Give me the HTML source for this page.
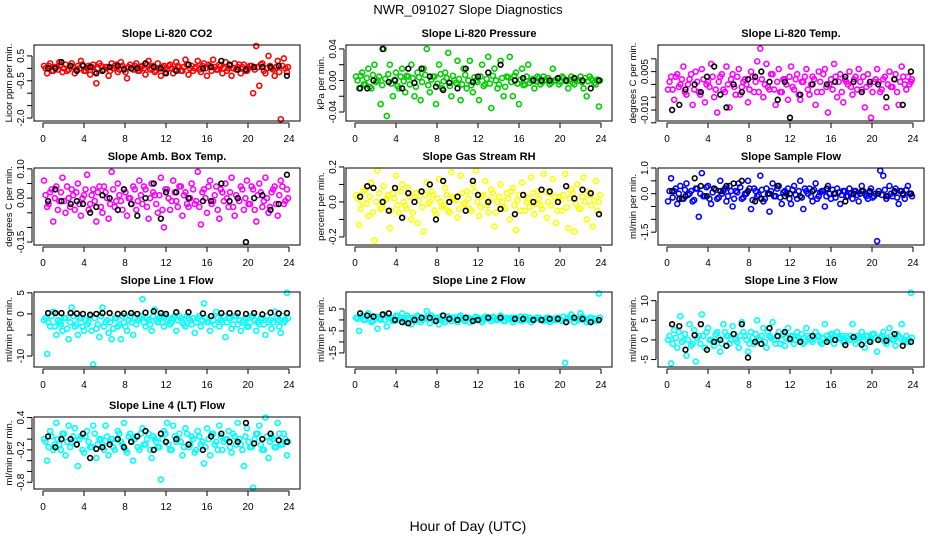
<!DOCTYPE html>
<html><head><meta charset="utf-8"><style>
html,body{margin:0;padding:0;background:#fff;width:936px;height:540px;overflow:hidden}
svg{display:block;font-family:"Liberation Sans",Arial,sans-serif}
</style></head><body>
<svg id="chart" width="936" height="540" viewBox="0 0 936 540" xmlns="http://www.w3.org/2000/svg">
<rect x="0" y="0" width="936" height="540" fill="#fff"/>
<text x="468" y="14" text-anchor="middle" font-size="13">NWR_091027  Slope Diagnostics</text>
<text x="468" y="531" text-anchor="middle" font-size="14">Hour of Day (UTC)</text>
</svg>
<script>
const colorHours=[0.1,0.4,0.7,1.0,1.3,1.6,1.9,2.2,2.5,2.8,3.1,3.4,3.7,4.0,4.3,4.6,4.9,5.2,5.5,5.8,6.1,6.4,6.7,7.0,7.3,7.6,7.9,8.2,8.5,8.8,9.1,9.4,9.7,10.0,10.3,10.6,10.9,11.2,11.5,11.8,12.1,12.4,12.7,13.0,13.3,13.6,13.9,14.2,14.5,14.8,15.1,15.4,15.7,16.0,16.3,16.6,16.9,17.2,17.5,17.8,18.1,18.4,18.7,19.0,19.3,19.6,19.9,20.2,20.5,20.8,21.1,21.4,21.7,22.0,22.3,22.6,22.9,23.2,23.5,23.8];
const coreHours=[0.25,0.55,0.85,1.15,1.45,1.75,2.05,2.35,2.65,2.95,3.25,3.55,3.85,4.15,4.45,4.75,5.05,5.35,5.65,5.95,6.25,6.55,6.85,7.15,7.45,7.75,8.05,8.35,8.65,8.95,9.25,9.55,9.85,10.15,10.45,10.75,11.05,11.35,11.65,11.95,12.25,12.55,12.85,13.15,13.45,13.75,14.05,14.35,14.65,14.95,15.25,15.55,15.85,16.15,16.45,16.75,17.05,17.35,17.65,17.95,18.25,18.55,18.85,19.15,19.45,19.75,20.05,20.35,20.65,20.95,21.25,21.55,21.85,22.15,22.45,22.75,23.05,23.35,23.65,23.9];
const blackHours=[0.5,1.2,1.8,2.7,3.3,3.9,4.6,5.2,5.8,6.5,7.3,7.9,8.6,9.2,10.0,10.8,11.5,12.0,13.0,14.2,15.6,16.4,17.4,18.2,19.0,19.8,20.6,21.4,22.2,23.0,23.8];
const xTicks=[0,4,8,12,16,20,24];

const titles=["Slope Li-820 CO2","Slope Li-820 Pressure","Slope Li-820 Temp.","Slope Amb. Box Temp.","Slope Gas Stream RH","Slope Sample Flow","Slope Line 1 Flow","Slope Line 2 Flow","Slope Line 3 Flow","Slope Line 4 (LT) Flow"];
const yTitles=["Licor ppm per min.","kPa per min.","degrees C per min.","degrees C per min.","percent per min.","ml/min per min.","ml/min per min.","ml/min per min.","ml/min per min.","ml/min per min."];
const colors=["#ff0000","#00cd00","#ff00ff","#ff00ff","#ffff00","#0000ff","#00ffff","#00ffff","#00ffff","#00ffff"];
const yRanges=[[-2.12,0.94],[-0.0514,0.045],[-0.0143,0.0154],[-0.16,0.103],[-0.246,0.194],[-2.0,1.0],[-12.6,5.2],[-21.4,12.7],[-6.9,12.2],[-0.925,0.41]];
const yTicks=[[0.5,0,-0.5,-1,-1.5,-2],[0.04,0.02,0,-0.02,-0.04],[0.01,0.005,0,-0.005,-0.01,-0.015],[0.1,0.05,0,-0.05,-0.1,-0.15],[0.2,0.1,0,-0.1,-0.2],[1,0.5,0,-0.5,-1,-1.5],[5,0,-5,-10],[5,0,-5,-10,-15],[10,5,0,-5],[0.4,0.2,0,-0.2,-0.4,-0.6,-0.8]];
const yLabels=[["0.5","-0.5","-2.0"],["0.04","0.00","-0.04"],["0.005","-0.010"],["0.10","0.00","-0.15"],["0.2","0.0","-0.2"],["1.0","0.0","-1.5"],["5","0","-10"],["5","-5","-15"],["10","5","0","-5"],["0.4","-0.2","-0.8"]];
const yLabelVals=[[0.5,-0.5,-2],[0.04,0,-0.04],[0.005,-0.01],[0.1,0,-0.15],[0.2,0,-0.2],[1,0,-1.5],[5,0,-10],[5,-5,-15],[10,5,0,-5],[0.4,-0.2,-0.8]];

const co2Vals=[0.1,-0.2,0.2,-0.1,0.05,0.25,-0.15,0.15,-0.05,0.2,-0.2,0.1,0.3,-0.1,0.0,-0.25,0.15,-0.6,0.2,-0.1,0.05,-0.3,0.2,0.1,-0.15,0.25,0.0,-0.4,0.15,-0.05,0.2,-0.1,0.1,-0.25,0.3,0.0,-0.15,0.2,-0.3,0.1,-0.05,0.15,-0.2,0.25,0.05,-0.1,0.35,-0.25,0.1,0.0,0.3,-0.15,0.2,-0.3,0.1,0.35,-0.05,0.15,-0.2,0.25,0.0,-0.3,0.2,0.05,-0.2,0.15,-0.1,0.1,-1.0,0.9,-0.7,0.2,-0.2,0.5,0.0,-0.3,0.3,-2.05,0.4,-0.15];
const co2Core=[0.0,0.1,-0.1,0.05,-0.05,0.15,0.0,-0.1,0.1,0.05,-0.05,0.0,0.15,-0.1,0.1,0.05,-0.15,0.0,0.1,-0.05,0.05,-0.1,0.0,0.15,-0.05,0.1,-0.15,0.05,0.0,0.1,-0.1,0.05,0.0,0.15,-0.05,0.1,-0.1,0.0,0.05,-0.15,0.1,0.0,-0.05,0.1,-0.1,0.05,0.15,0.0,-0.1,0.05,-0.05,0.1,0.0,0.15,-0.1,0.05,-0.05,0.1,0.0,-0.1,0.1,0.0,-0.05,0.15,0.05,-0.1,0.0,0.1,-0.05,0.05,0.15,-0.1,0.0,0.1,-0.05,0.05,-0.15,0.1,0.0,0.05];
const co2Black=[0.0,0.0,0.25,0.1,-0.1,0.1,0.05,-0.2,-0.1,0.05,0.1,-0.05,0.0,0.0,0.2,0.05,0.0,-0.2,-0.1,0.15,0.0,0.05,0.3,0.15,-0.05,-0.05,0.05,0.05,0.05,0.1,-0.3];
const presVals=[0.005,-0.01,0.01,-0.005,0.015,-0.01,0.02,0.0,-0.03,0.04,-0.045,0.02,-0.02,0.01,-0.01,0.015,-0.015,0.005,0.02,-0.02,0.01,-0.025,0.015,0.04,-0.015,0.005,-0.03,0.02,-0.01,0.01,0.035,-0.02,0.0,0.025,-0.025,0.015,-0.01,0.025,-0.015,0.0,-0.025,0.02,-0.005,0.03,-0.035,0.015,-0.01,0.025,-0.02,0.005,0.03,-0.02,0.01,-0.03,0.015,-0.005,0.02,0.0,-0.01,0.005,-0.005,0.005,0.0,-0.005,0.015,0.0,-0.005,0.005,0.0,-0.01,0.005,-0.005,0.0,0.005,-0.01,-0.02,0.005,0.0,-0.005,-0.033];
const presCore=[0.0,0.006,-0.005,0.003,-0.008,0.007,-0.002,0.005,-0.006,0.002,0.008,-0.004,0.001,-0.007,0.005,-0.001,0.006,-0.005,0.003,-0.008,0.004,-0.002,0.007,-0.006,0.001,0.005,-0.004,0.008,-0.001,0.003,-0.007,0.006,-0.003,0.002,-0.005,0.007,0.0,-0.006,0.004,-0.002,0.005,-0.007,0.002,-0.004,0.006,0.0,-0.005,0.003,-0.008,0.004,-0.002,0.006,-0.004,0.001,-0.006,0.005,-0.003,0.002,-0.001,0.003,-0.002,0.001,0.003,-0.003,0.0,0.002,-0.002,0.003,-0.001,0.001,-0.003,0.002,0.0,-0.002,0.003,-0.001,0.002,-0.003,0.001,0.0];
const presBlack=[-0.01,-0.01,0.0,0.04,-0.002,0.0,-0.01,0.015,-0.003,0.015,0.005,-0.008,-0.012,-0.003,-0.01,0.015,-0.002,0.005,0.01,0.02,0.0,0.003,0.0,0.0,0.0,0.003,0.0,0.003,0.0,-0.01,0.0];
const tempVals=[-0.002,0.003,-0.006,0.004,0.0,0.007,-0.004,0.002,-0.008,0.005,-0.003,0.006,-0.007,0.001,0.008,-0.005,-0.011,0.003,-0.002,0.007,-0.009,0.004,-0.004,0.006,-0.001,0.002,-0.007,0.005,-0.003,0.009,0.014,-0.005,0.008,-0.002,0.004,-0.008,0.006,-0.003,0.002,-0.006,0.007,-0.002,0.004,-0.006,0.001,0.006,-0.004,0.003,-0.008,0.005,-0.003,0.006,-0.011,0.002,0.008,-0.005,0.004,-0.007,0.001,0.005,-0.004,0.003,0.006,-0.002,-0.009,0.004,-0.013,0.001,0.006,-0.003,0.002,-0.009,0.005,-0.001,0.004,-0.008,0.007,0.0,0.003,0.001];
const tempCore=[0.001,-0.002,0.003,-0.001,0.002,-0.003,0.0,0.004,-0.002,0.001,-0.004,0.002,0.0,-0.001,0.003,-0.002,0.001,0.004,-0.003,0.0,0.002,-0.001,0.003,-0.004,0.001,0.0,-0.002,0.003,0.001,-0.003,0.002,0.0,-0.001,0.004,-0.002,0.001,-0.003,0.002,0.0,0.003,-0.001,0.002,-0.004,0.001,0.003,-0.002,0.0,0.002,-0.003,0.001,0.004,-0.001,0.0,-0.002,0.003,0.001,-0.003,0.002,0.0,-0.001,0.002,-0.002,0.001,0.003,-0.001,0.0,-0.003,0.002,0.001,-0.002,0.003,0.0,-0.001,0.002,-0.003,0.001,0.003,-0.002,0.0,0.002];
const tempBlack=[-0.01,-0.008,-0.002,0.0,-0.003,0.003,0.007,-0.004,-0.009,0.0,-0.003,0.002,0.003,0.005,0.001,-0.006,0.001,-0.013,-0.004,0.0,0.0,0.001,0.003,0.001,-0.003,0.001,0.0,-0.005,0.002,-0.008,0.005];
const ambVals=[0.06,-0.03,0.02,-0.08,0.04,-0.01,0.07,-0.05,0.0,0.03,-0.04,0.05,-0.06,0.01,0.08,-0.02,0.03,-0.08,0.04,-0.05,0.02,-0.07,0.09,-0.03,0.05,-0.01,0.03,-0.06,0.0,0.04,-0.04,0.06,-0.02,0.03,-0.07,0.05,0.01,-0.05,0.07,-0.1,0.03,-0.04,0.06,-0.01,0.04,-0.06,0.02,-0.03,0.05,-0.02,0.09,-0.09,0.03,-0.05,0.06,-0.01,0.04,-0.07,0.02,0.05,-0.03,0.07,-0.06,0.0,0.04,-0.04,0.06,-0.02,0.03,-0.08,0.05,-0.03,0.07,-0.05,0.02,0.04,-0.06,0.06,-0.02,0.03];
const ambCore=[0.01,-0.02,0.03,0.0,-0.04,0.02,-0.01,0.04,-0.03,0.01,0.02,-0.02,0.0,0.03,-0.04,0.01,-0.01,0.02,-0.03,0.04,0.0,-0.02,0.03,-0.01,0.01,-0.04,0.02,0.0,-0.02,0.03,-0.01,0.01,0.04,-0.03,0.0,0.02,-0.02,0.01,-0.04,0.03,0.0,-0.01,0.02,-0.03,0.04,0.01,-0.02,0.0,0.03,-0.01,-0.03,0.02,0.0,0.04,-0.02,0.01,-0.04,0.03,-0.01,0.0,0.02,-0.03,0.01,-0.01,0.03,0.0,-0.02,0.04,-0.04,0.01,0.02,-0.01,0.0,-0.03,0.03,-0.02,0.01,0.04,-0.01,0.0];
const ambBlack=[-0.01,0.03,-0.01,-0.02,-0.01,-0.02,-0.05,-0.03,0.01,0.0,-0.04,0.03,-0.02,-0.06,0.0,0.05,-0.07,0.02,0.02,0.0,-0.01,-0.01,0.05,-0.01,0.0,-0.15,0.0,0.01,-0.04,-0.02,0.08];
const rhVals=[0.04,-0.13,0.0,0.07,-0.08,0.11,-0.22,0.18,-0.04,0.09,0.02,-0.15,0.05,0.15,-0.06,0.1,-0.02,0.08,-0.1,0.03,-0.12,0.06,-0.17,0.11,0.0,0.04,-0.07,0.13,-0.03,0.08,-0.05,0.17,0.02,-0.09,0.15,-0.01,0.06,-0.04,0.1,0.18,-0.08,0.03,0.12,-0.06,0.07,-0.14,0.0,0.1,-0.03,0.05,-0.1,0.08,-0.16,0.04,0.11,-0.05,0.02,0.14,-0.07,0.06,-0.02,0.16,-0.09,0.05,0.13,-0.12,0.03,-0.05,0.16,-0.15,0.07,-0.17,0.1,-0.04,0.14,-0.1,0.04,-0.14,0.12,0.0];
const rhCore=[0.02,-0.04,0.06,-0.01,0.03,-0.06,0.0,0.05,-0.03,0.01,0.04,-0.05,0.02,-0.02,0.06,0.0,-0.04,0.03,-0.06,0.05,0.01,-0.03,0.04,-0.01,0.06,-0.05,0.02,0.0,-0.02,0.04,-0.06,0.03,0.01,-0.04,0.05,-0.01,0.02,-0.05,0.06,0.0,-0.03,0.04,-0.02,0.01,0.05,-0.06,0.03,0.0,-0.04,0.02,0.06,-0.02,0.01,-0.05,0.04,0.0,-0.03,0.05,-0.01,0.02,-0.04,0.06,0.0,-0.02,0.03,-0.05,0.01,0.04,-0.03,0.02,0.05,-0.01,-0.04,0.03,0.0,0.06,-0.02,0.01,-0.05,0.04];
const rhBlack=[0.03,0.09,0.08,0.0,-0.05,0.08,-0.09,0.05,0.0,0.06,0.1,-0.1,0.12,0.0,0.03,-0.05,0.12,0.04,0.0,-0.04,-0.07,0.04,0.0,0.07,0.06,0.0,0.09,0.02,0.07,0.05,-0.07];
const sampVals=[-0.3,0.6,0.1,-0.4,0.3,-0.2,0.4,0.0,-0.3,0.2,-0.9,0.8,-0.1,0.3,-0.4,0.2,-0.2,0.5,0.1,-0.3,0.3,-0.5,0.1,0.4,-0.2,0.0,0.5,-0.6,0.2,-0.1,0.7,-0.3,0.2,-0.7,0.4,-0.1,0.3,-0.4,0.1,0.2,-0.4,0.3,-0.2,0.5,-0.6,0.1,0.2,-0.3,0.4,-0.1,0.1,-0.5,0.3,-0.2,0.0,0.2,-0.4,0.1,-0.1,0.2,-0.2,0.1,-0.3,0.3,0.0,-0.2,0.2,-0.1,-1.85,0.9,0.7,-0.2,0.3,-0.1,0.2,-0.4,0.1,-0.2,0.3,0.0];
const sampCore=[0.1,-0.15,0.2,0.0,-0.2,0.15,-0.05,0.1,-0.25,0.2,0.0,-0.1,0.25,-0.2,0.05,0.15,-0.15,0.0,0.2,-0.1,0.1,-0.2,0.05,0.25,-0.15,0.0,0.2,-0.25,0.1,-0.05,0.15,-0.2,0.0,0.1,-0.1,0.2,-0.15,0.05,0.0,-0.2,0.15,-0.05,0.1,-0.15,0.2,0.0,-0.1,0.15,-0.2,0.05,0.1,-0.1,0.0,0.15,-0.15,0.05,-0.05,0.1,-0.1,0.0,0.1,-0.05,0.0,0.1,-0.1,0.05,-0.15,0.0,0.1,-0.05,0.15,-0.1,0.0,0.05,-0.15,0.1,-0.05,0.15,0.0,-0.1];
const sampBlack=[0.1,-0.2,-0.1,0.6,0.3,-0.1,0.2,0.1,0.3,0.4,0.5,0.1,-0.3,-0.2,0.0,0.3,-0.1,0.0,-0.1,0.1,0.2,0.0,-0.3,0.0,0.1,0.1,0.0,-0.1,0.1,0.0,0.0];
const line1Vals=[-1.5,-9.5,-3,0.5,-5,-2,-4,-1,-6,1.5,-3,-5,-1,-4,-2.5,-0.5,-12,-3.5,-5.5,1.5,-2,-4.5,-6,-1,-3,-6,-2,-4,-0.5,-5,-2.5,-1,3.5,-3,-1.5,-4,1,-2,-0.5,-3,-1.5,-2.5,-1,-4,-0.5,-2,-3,-1,-2.5,-4.5,-1,-3,2.5,-2,-4,-1.5,0.5,-3,-2,-5.5,-1,-3.5,-0.5,-2.5,-4,-1.5,-3,-2,-0.5,-4,-2.5,-1,-5,-2,-3.5,0.5,-1.5,-4.5,-2,5];
const line1Core=[-1,-2,-0.5,-3,-1.5,-2.5,-1,-3.5,-2,-0.5,-2.5,-1,-3,-1.5,-2,-4,-1,-2.5,-0.5,-3,-1.5,-2,-3.5,-1,-2.5,-0.5,-3,-1.5,-2,-1,-1.5,-0.5,-2,-1,-2.5,-0.5,-1.5,-1,-2,-0.5,-1,-2,-0.5,-1.5,-1,-2.5,-0.5,-1.5,-1,-2,-0.5,-1.5,-1,-2,-0.5,-2.5,-1,-1.5,-0.5,-2,-1,-2.5,-0.5,-1.5,-2,-1,-3,-0.5,-1.5,-2,-1,-2.5,-0.5,-1.5,-2,-1,-3,-0.5,-1.5,-1];
const line1Black=[0.2,0.2,0.2,0.2,0.1,0.0,-0.2,0.0,0.2,0.2,0.0,0.1,0.2,0.0,0.3,0.6,0.2,0.0,0.4,0.4,0.1,-0.5,0.2,0.2,0.2,0.0,0.2,-0.1,0.3,0.1,0.2];
const line2Vals=[1,-5,2,0,3,-1,1.5,-4,0,2.5,-3,1,-0.5,2,0,3,-1,1,-2,0.5,2,-1,0.5,4,-1.5,1,0,-2,2,-1,1.5,-0.5,1,-1,2,0,1,-1,0.5,1.5,0,-1,1.5,0.5,-0.5,1,0,2,-0.5,1,0.5,-1,1,0,-0.5,1.5,0,-1,0.5,1,0,-0.5,1,-1,0.5,0,1,-0.5,-19.5,1,2.5,-1,0.5,3,0,-1,1,-0.5,0.5,12];
const line2Core=[0.5,1.5,0,2,1,-0.5,1.5,0.5,2,0,1,0.5,-0.5,1.5,1,0,2,0.5,1,-0.5,1.5,0,1,0.5,2,-0.5,1,0.5,0,1.5,0.5,1,0,1.5,0.5,-0.5,1,0.5,0,1,0.5,0,1,0.5,1.5,0,0.5,1,-0.5,0.5,1,0,0.5,1.5,0,0.5,1,0,0.5,1,0,0.5,1,-0.5,0.5,1,0,1.5,0.5,0,1,0.5,0,1.5,0.5,0,1,0.5,-0.5,1];
const line2Black=[3,2,1.5,2.5,3,0,-1,-1.5,0,1,1,-0.5,2,0.5,0,1,-0.5,0,1,1,0.5,0.5,0,0,0.5,0.5,-1,1,0.5,-1,0];
const line3Vals=[0,-6,2.5,-2,6,0,-4,4,-1,-5.5,1,6.5,-2,3,0,-1.5,2,-3,4,1,-1,3.5,0,-2,4.5,1,-3,2,-1,5,0,3,-2,1,4.5,-1,2,0,-1.5,3,1,-1,2,0,-1,3,0.5,-0.5,2,1,-1,4,0,1.5,-1,2,0.5,-0.5,1,0,4,-1,0.5,2,-2,1,-0.5,1.5,-3,0.5,2,-1,3,0,-1.5,1,4,0,-0.5,12];
const line3Core=[1,-1,0.5,2,-0.5,1.5,0,-1.5,2.5,0.5,-1,1,2,0,-0.5,1.5,0.5,-1,2,1,0,1.5,-0.5,1,2,0,-1,0.5,1.5,0,1,-0.5,2,0.5,0,1,-1,1.5,0.5,0,1,0,0.5,1.5,-0.5,1,0,0.5,1,-0.5,0.5,1,0,1.5,0,0.5,1,-0.5,0.5,1,0,1,0.5,-0.5,1,0,1.5,0.5,0,1,-0.5,0.5,1,0,1.5,0.5,-0.5,1,0,0.5];
const line3Black=[4,3.5,-2.5,1.2,4,-2.5,-0.5,0,-1.5,1.5,4,-4.5,-0.5,-1,3,1,2,0.3,-0.5,1,-0.5,0,-1.3,0.7,-1.2,-0.5,0,-0.2,1.5,-1.5,-0.5];
const line4Vals=[0.0,-0.4,0.15,-0.2,0.3,-0.1,0.1,-0.3,0.25,-0.05,0.2,-0.5,0.05,-0.25,0.15,-0.15,0.25,-0.35,0.0,-0.1,0.25,-0.3,0.0,-0.2,0.15,-0.05,0.3,-0.25,0.1,-0.4,0.05,-0.2,0.2,-0.1,0.1,-0.35,0.0,-0.15,-0.75,0.15,0.3,-0.2,0.25,-0.05,0.1,-0.3,0.2,-0.15,0.05,-0.25,0.15,-0.1,-0.45,0.2,-0.3,0.1,-0.05,0.25,-0.2,0.0,0.15,-0.25,0.05,0.3,-0.1,-0.5,0.2,-0.15,-0.9,0.1,0.25,-0.2,0.4,-0.35,0.05,-0.15,0.3,-0.1,0.1,-0.3];
const line4Core=[-0.05,-0.15,0.05,-0.1,0.0,-0.2,0.1,-0.05,-0.15,0.05,-0.1,0.0,-0.2,0.05,-0.05,-0.15,0.1,-0.1,0.0,-0.2,0.05,-0.05,-0.15,0.0,0.1,-0.1,-0.2,0.05,-0.05,0.0,-0.15,0.1,-0.1,0.0,-0.2,0.05,-0.05,-0.15,0.0,0.1,-0.1,-0.2,0.05,0.0,-0.05,-0.15,0.1,-0.1,0.0,-0.2,0.05,-0.05,-0.15,0.0,0.1,-0.1,-0.2,0.05,-0.05,0.0,-0.15,0.1,-0.1,0.0,-0.2,0.05,-0.05,-0.15,0.0,0.1,-0.1,-0.2,0.05,-0.05,0.0,-0.15,0.1,-0.1,0.0,-0.05];
const line4Black=[0.05,-0.15,0.0,0.0,-0.1,0.1,-0.35,-0.18,-0.15,-0.1,0.0,-0.15,-0.05,0.05,0.15,-0.2,0.1,-0.05,0.0,-0.1,-0.2,0.05,0.1,-0.05,-0.05,0.3,-0.08,0.0,0.1,-0.02,-0.05];

const colorSeries=[co2Vals,presVals,tempVals,ambVals,rhVals,sampVals,line1Vals,line2Vals,line3Vals,line4Vals];
const coreSeries=[co2Core,presCore,tempCore,ambCore,rhCore,sampCore,line1Core,line2Core,line3Core,line4Core];
const blackSeries=[co2Black,presBlack,tempBlack,ambBlack,rhBlack,sampBlack,line1Black,line2Black,line3Black,line4Black];

const NS="http://www.w3.org/2000/svg";
const svg=document.getElementById('chart');
const rowBoxes=[[45,121],[168,245],[292,367],[417,489]];
const colOff=[0,312,624];
function mk(tag,attrs,parent){const e=document.createElementNS(NS,tag);for(const k in attrs)e.setAttribute(k,attrs[k]);(parent||svg).appendChild(e);return e;}

for(let p=0;p<10;p++){
  const row=Math.floor(p/3), col=p%3, off=colOff[col];
  const top=rowBoxes[row][0], bot=rowBoxes[row][1];
  const left=off+34, right=off+300;
  const [ymin,ymax]=yRanges[p];
  const xs=h=>off+43+h*10.25;
  const ys=v=>bot-(v-ymin)/(ymax-ymin)*(bot-top);
  const g=mk('g',{});
  
  
  const t=mk('text',{x:(left+right)/2,y:top-8,'text-anchor':'middle','font-size':'11','font-weight':'bold'},g);
  t.textContent=titles[p];
  
  
  const yt=mk('text',{transform:`translate(${off+12},${(top+bot)/2}) rotate(-90)`,'text-anchor':'middle','font-size':'9.5'},g);
  yt.textContent=yTitles[p];
  
  
  const cs=colorSeries[p];
  for(let i=0;i<Math.min(cs.length,colorHours.length);i++){
    const c=mk('circle',{cx:xs(colorHours[i]),cy:ys(cs[i]),r:2.5,fill:'none',stroke:colors[p],'stroke-width':1.6},g);
    
    
  }
  const cc=coreSeries[p];
  for(let i=0;i<Math.min(cc.length,coreHours.length);i++){
    const c=mk('circle',{cx:xs(coreHours[i]),cy:ys(cc[i]),r:2.5,fill:'none',stroke:colors[p],'stroke-width':1.6},g);
    
    
  }
  const bs=blackSeries[p];
  for(let i=0;i<Math.min(bs.length,blackHours.length);i++){
    const c=mk('circle',{cx:xs(blackHours[i]),cy:ys(bs[i]),r:2.4,fill:'none',stroke:'#000','stroke-width':1.6},g);
    
    
  }
  const box=mk('rect',{x:left,y:top,width:right-left,height:bot-top,fill:'none',stroke:'#000','stroke-width':1},g);
  
  
  mk('line',{x1:xs(0),x2:xs(24),y1:bot+2,y2:bot+2,stroke:'#000','stroke-width':1},g);
  for(const h of xTicks){
    mk('line',{x1:xs(h),x2:xs(h),y1:bot+2,y2:bot+7,stroke:'#000','stroke-width':1},g);
    const l=mk('text',{x:xs(h),y:bot+21,'text-anchor':'middle','font-size':'10'},g);
    l.textContent=String(h);
    
    
  }
  const tk=yTicks[p];
  mk('line',{x1:left-2,x2:left-2,y1:ys(tk[0]),y2:ys(tk[tk.length-1]),stroke:'#000','stroke-width':1},g);
  for(const v of tk){
    mk('line',{x1:left-7,x2:left-2,y1:ys(v),y2:ys(v),stroke:'#000','stroke-width':1},g);
  }
  for(let i=0;i<yLabels[p].length;i++){
    const yy=ys(yLabelVals[p][i]);
    const l=mk('text',{transform:`translate(${left-10},${yy}) rotate(-90)`,'text-anchor':'middle','font-size':'10'},g);
    l.textContent=yLabels[p][i];
    
    
  }
}
</script>
</body></html>
